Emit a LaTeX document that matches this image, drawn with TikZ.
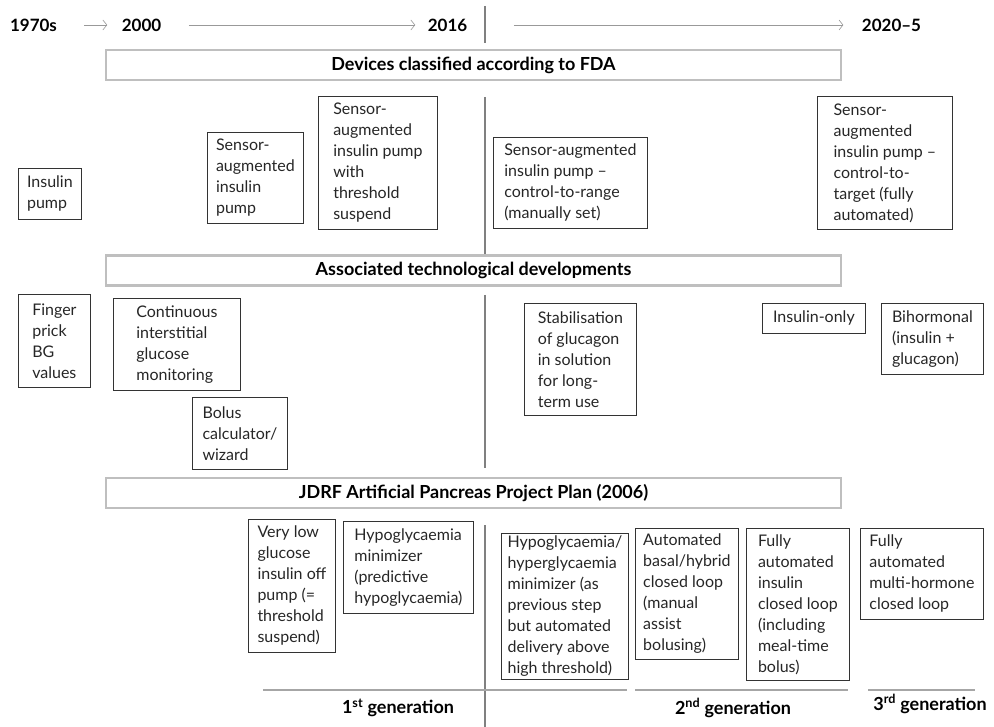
\documentclass[tikz,border=0pt]{standalone}
\usepackage{fontspec}
\setmainfont{Lato}
\usetikzlibrary{arrows.meta}
\tikzset{
  box/.style={draw=black!80, line width=0.8pt, anchor=north west, align=left,
    inner sep=0pt, text=black!85, font=\fontsize{16}{21}\selectfont},
  wh/.style 2 args={minimum width=#1pt, minimum height=#2pt},
  banner/.style={draw=black!25, line width=2.5pt, minimum width=735pt,
    minimum height=30pt, font=\bfseries\fontsize{18}{20}\selectfont},
  yr/.style={font=\bfseries\fontsize{17}{19}\selectfont},
  gen/.style={font=\bfseries\fontsize{18}{20}\selectfont},
  tl/.style={black!40, line width=0.6pt, -{Straight Barb[length=4pt,width=10pt]}},
  sep/.style={black!35, line width=2pt},
  vl/.style={black!50, line width=2pt},
}
\begin{document}
\begin{tikzpicture}[x=1pt,y=-1pt]
\useasboundingbox (0,0) rectangle (994,727);
% time line
\node[yr] (y1970) at (33.5,25) {1970s};
\node[yr] (y2000) at (141.5,25) {2000};
\node[yr] (y2016) at (447.5,25) {2016};
\node[yr] (y2020) at (891.5,25) {2020--5};
\draw[tl] ([xshift=24pt]y1970.east) -- ([xshift=-11pt]y2000.west);
\draw[tl] ([xshift=24pt]y2000.east) -- ([xshift=-9pt]y2016.west);
\draw[tl] ([xshift=43pt]y2016.east) -- ([xshift=-15pt]y2020.west);
% dividing line
\draw[vl] (485,6) -- (485,43);
\draw[vl] (485,97) -- (485,254);
\draw[vl] (485,295) -- (485,468);
\draw[vl] (485,525) -- (485,727);
% banners
\node[banner] (fda) at (473.5,65) {Devices classified according to FDA};
\node[banner] (tech) at (473.5,270.5) {Associated technological developments};
\node[banner] (jdrf) at (473.5,493) {JDRF Artificial Pancreas Project Plan (2006)};
% devices
\node[box,wh={63}{51}] (ip) at (18,168) {Insulin\\pump};
\node[box,wh={96}{91}] (sap) at (207,132) {Sensor-\\augmented\\insulin\\pump};
\node[box,wh={119}{133}] (sapts) at (318,96) {Sensor-\\augmented\\insulin pump\\with\\threshold\\suspend};
\node[box,wh={154}{91}] (saprange) at (493,137) {Sensor-augmented\\insulin pump --\\control-to-range\\(manually set)};
\node[box,wh={135}{133}] (saptarget) at (817,96) {Sensor-\\augmented\\insulin pump --\\control-to-\\target (fully\\automated)};
% technology
\node[box,wh={72}{93}] (fp) at (18,294) {Finger\\prick\\BG\\values};
\node[box,wh={127}{92}] (cgm) at (113,298) {Continuous\\interstitial\\glucose\\monitoring};
\node[box,wh={95}{72}] (bolus) at (192,397) {Bolus\\calculator/\\wizard};
\node[box,wh={112}{112}] (glucagon) at (524,303) {Stabilisation\\of glucagon\\in solution\\for long-\\term use};
\node[box,wh={103}{30}] (insonly) at (762,303) {Insulin-only};
\node[box,wh={102}{71}] (bihorm) at (881,303) {Bihormonal\\(insulin +\\glucagon)};
% JDRF steps
\node[box,wh={87}{133}] (vlg) at (248,519) {Very low\\glucose\\insulin off\\pump (=\\threshold\\suspend)};
\node[box,wh={130}{92}] (hypo) at (343,521) {Hypoglycaemia\\minimizer\\(predictive\\hypoglycaemia)};
\node[box,wh={127}{146}] (hyper) at (501,533) {Hypoglycaemia/\\hyperglycaemia\\minimizer (as\\previous step\\but automated\\delivery above\\high threshold)};
\node[box,wh={103}{131}] (hybrid) at (635,528) {Automated\\basal/hybrid\\closed loop\\(manual\\assist\\bolusing)};
\node[box,wh={103}{152}] (fullins) at (746,528) {Fully\\automated\\insulin\\closed loop\\(including\\meal-time\\bolus)};
\node[box,wh={123}{91}] (multi) at (860,528) {Fully\\automated\\multi-hormone\\closed loop};
% generations
\draw[sep] (263,690) -- (627,690);
\draw[sep] (635,690) -- (848,690);
\draw[sep] (868,690) -- (975,690);
\node[gen] (g1) at (398,708) {1\textsuperscript{st} generation};
\node[gen] (g2) at (733,708) {2\textsuperscript{nd} generation};
\node[gen] (g3) at (930,704) {3\textsuperscript{rd} generation};
\end{tikzpicture}
\end{document}
